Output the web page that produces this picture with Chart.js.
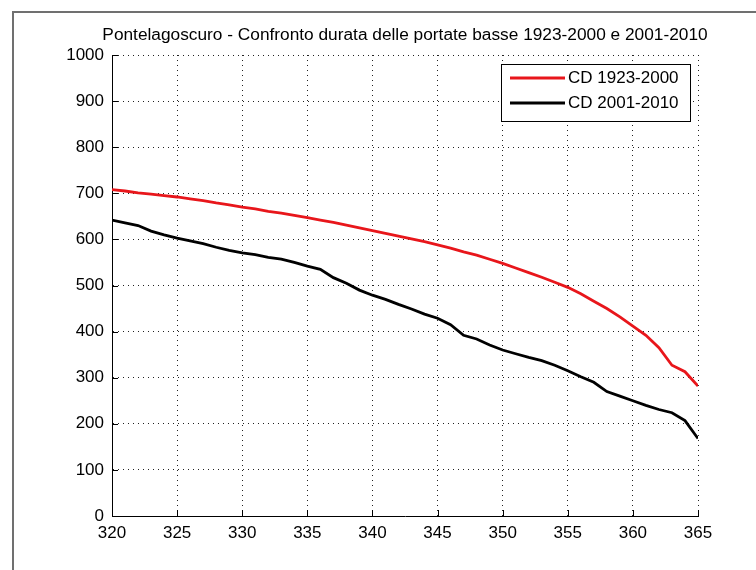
<!DOCTYPE html>
<html>
<head>
<meta charset="utf-8">
<title>Pontelagoscuro - curve di durata</title>
<script src="https://cdn.jsdelivr.net/npm/chart.js@4.4.1/dist/chart.umd.min.js"></script>
<style>
  html, body { margin: 0; padding: 0; background: #fff; }
  #wrap { position: relative; width: 756px; height: 570px; overflow: hidden; background: #fff; }
  #frame { position: absolute; left: 12px; top: 11px; width: 760px; height: 580px;
           border-top: 2px solid #707070; border-left: 2px solid #707070; }
  #chart { position: absolute; left: 0; top: 0; }
</style>
</head>
<body>
<div id="wrap">
  <div id="frame"></div>
  <canvas id="chart" width="756" height="570"></canvas>
</div>
<script>
// days of the year (duration), x axis
const days = [320, 321, 322, 323, 324, 325, 326, 327, 328, 329,
              330, 331, 332, 333, 334, 335, 336, 337, 338, 339,
              340, 341, 342, 343, 344, 345, 346, 347, 348, 349,
              350, 351, 352, 353, 354, 355, 356, 357, 358, 359,
              360, 361, 362, 363, 364, 365];

// CD 1923-2000 (red)
const cd1923 = [708, 705, 701, 698, 695, 692, 688, 684, 679, 675,
                670, 666, 661, 657, 652, 647, 642, 637, 631, 625,
                619, 613, 607, 601, 595, 588, 581, 573, 566, 557,
                548, 538, 528, 518, 507, 496, 482, 466, 450, 432,
                412, 392, 365, 327, 313, 282];

// CD 2001-2010 (black)
const cd2001 = [642, 636, 630, 618, 610, 603, 597, 591, 583, 576,
                571, 567, 561, 557, 550, 542, 535, 517, 505, 490,
                479, 470, 459, 449, 438, 429, 415, 392, 384, 371,
                360, 352, 344, 337, 327, 315, 302, 290, 270, 260,
                250, 240, 231, 224, 207, 168];

const xTicks = [320, 325, 330, 335, 340, 345, 350, 355, 360, 365];
const yTicks = [0, 100, 200, 300, 400, 500, 600, 700, 800, 900, 1000];

const seriesNames = ["CD 1923-2000", "CD 2001-2010"];
const seriesColors = ["#e8161b", "#000000"];
const titleText = "Pontelagoscuro - Confronto durata delle portate basse 1923-2000 e 2001-2010";

const FONT = '"Liberation Sans", Arial, sans-serif';

// title centred over the axes, not the whole figure
const axesTitle = {
    id: "axesTitle",
    afterDraw(chart) {
        const { ctx, chartArea } = chart;
        ctx.save();
        ctx.fillStyle = "#000";
        ctx.font = "17.3px " + FONT;
        ctx.textAlign = "center";
        ctx.textBaseline = "middle";
        ctx.fillText(titleText, (chartArea.left + chartArea.right) / 2, 35);
        ctx.restore();
    }
};

// MATLAB style: ticks point into the plot
const innerTicks = {
    id: "innerTicks",
    afterDatasetsDraw(chart) {
        const { ctx, chartArea, scales } = chart;
        ctx.save();
        ctx.strokeStyle = "#000";
        ctx.lineWidth = 1;
        ctx.beginPath();
        xTicks.forEach(v => {
            const x = Math.round(scales.x.getPixelForValue(v)) + 0.5;
            ctx.moveTo(x, chartArea.bottom);
            ctx.lineTo(x, chartArea.bottom - 6);
        });
        yTicks.forEach(v => {
            const y = Math.round(scales.y.getPixelForValue(v)) + 0.5;
            ctx.moveTo(chartArea.left, y);
            ctx.lineTo(chartArea.left + 6, y);
        });
        ctx.stroke();
        ctx.restore();
    }
};

// legend box inside the axes, top right
const boxLegend = {
    id: "boxLegend",
    afterDraw(chart) {
        const { ctx } = chart;
        const left = 501, top = 64, right = 690, bottom = 121;
        ctx.save();
        ctx.fillStyle = "#fff";
        ctx.fillRect(left, top, right - left, bottom - top);
        ctx.strokeStyle = "#000";
        ctx.lineWidth = 1;
        ctx.strokeRect(left + 0.5, top + 0.5, right - left, bottom - top);
        chart.data.datasets.forEach((ds, i) => {
            const y = i === 0 ? 78 : 103;
            ctx.strokeStyle = ds.borderColor;
            ctx.lineWidth = 3;
            ctx.beginPath();
            ctx.moveTo(510, y);
            ctx.lineTo(565, y);
            ctx.stroke();
            ctx.fillStyle = "#000";
            ctx.font = "17px " + FONT;
            ctx.textBaseline = "middle";
            ctx.textAlign = "left";
            ctx.fillText(ds.label, 568, y);
        });
        ctx.restore();
    }
};

new Chart(document.getElementById("chart"), {
    type: "line",
    data: {
        datasets: [cd1923, cd2001].map((vals, i) => ({
            label: seriesNames[i],
            data: days.map((d, j) => ({ x: d, y: vals[j] })),
            borderColor: seriesColors[i],
            backgroundColor: seriesColors[i],
            borderWidth: 2.8,
            pointRadius: 0,
            tension: 0,
            fill: false,
        }))
    },
    options: {
        responsive: false,
        animation: false,
        events: [],
        layout: { padding: { left: 0, top: 55, right: 58, bottom: 0 } },
        plugins: {
            legend: { display: false },
            tooltip: { enabled: false },
            title: { display: false }
        },
        scales: {
            x: {
                type: "linear",
                min: 320, max: 365,
                afterBuildTicks: s => { s.ticks = xTicks.map(v => ({ value: v })); },
                afterFit: s => { s.height = 54; },
                ticks: { color: "#000", font: { family: FONT, size: 17 }, padding: 7, maxRotation: 0,
                         callback: v => String(v) },
                grid: { color: "#222", lineWidth: 1, drawTicks: false },
                border: { display: true, color: "#000", width: 1, dash: [1, 4] },
            },
            y: {
                min: 0, max: 1000,
                afterBuildTicks: s => { s.ticks = yTicks.map(v => ({ value: v })); },
                afterFit: s => { s.width = 112; },
                ticks: { color: "#000", font: { family: FONT, size: 17 }, padding: 8,
                         callback: v => String(v) },
                grid: { color: "#222", lineWidth: 1, drawTicks: false },
                border: { display: true, color: "#000", width: 1, dash: [1, 4] },
            }
        }
    },
    plugins: [innerTicks, boxLegend, axesTitle]
});
</script>
</body>
</html>
